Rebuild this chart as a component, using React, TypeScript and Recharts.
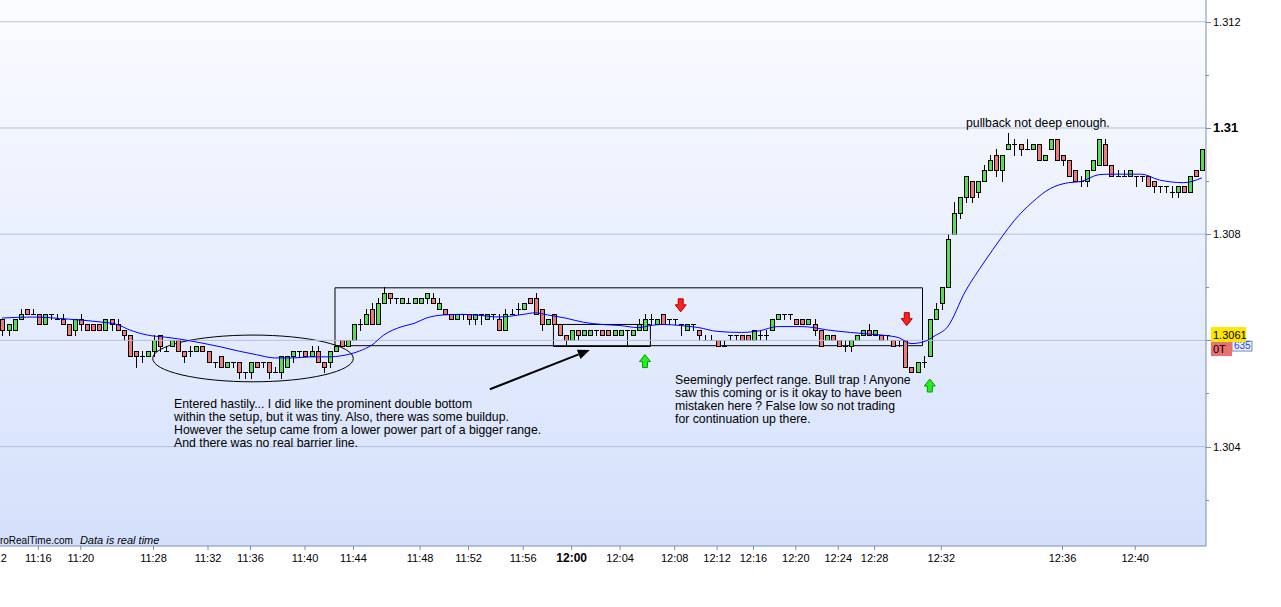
import React from 'react';
import {
  Bar,
  ComposedChart,
  Line,
  ReferenceArea,
  ReferenceDot,
  ReferenceLine,
  XAxis,
  YAxis,
} from 'recharts';

// one candle per tick-bar, read left to right off the screenshot
const opens = [
  1.3064, 1.3062, 1.3062, 1.3064, 1.3066, 1.3065, 1.3065, 1.3063, 1.3065, 1.3064,
  1.3064, 1.3063, 1.3062, 1.3064, 1.3063, 1.3063, 1.3063, 1.3062, 1.3064, 1.3063,
  1.3062, 1.3061, 1.3058, 1.3057, 1.3057, 1.3058, 1.3061, 1.3058, 1.3059, 1.306,
  1.3058, 1.3058, 1.3058, 1.3059, 1.3058, 1.3056, 1.3057, 1.3055, 1.3056, 1.3056,
  1.3054, 1.3054, 1.3056, 1.3056, 1.3056, 1.3054, 1.3054, 1.3055, 1.3057, 1.3058,
  1.3058, 1.3057, 1.3058, 1.3056, 1.3056, 1.3058, 1.306, 1.3059, 1.306, 1.3063,
  1.3063, 1.3066, 1.3063, 1.3067, 1.3069, 1.3068, 1.3067, 1.3067, 1.3067, 1.3067,
  1.3068, 1.3068, 1.3066, 1.3066, 1.3065, 1.3064, 1.3065, 1.3065, 1.3064, 1.3065,
  1.3064, 1.3065, 1.3064, 1.3062, 1.3065, 1.3066, 1.3066, 1.3068, 1.3068, 1.3066,
  1.3063, 1.3065, 1.3063, 1.3061, 1.306, 1.3062, 1.3061, 1.3061, 1.3062, 1.3062,
  1.3062, 1.3061, 1.3061, 1.3062, 1.3061, 1.3062, 1.3062, 1.3064, 1.3063, 1.3065,
  1.3064, 1.3064, 1.3063, 1.3062, 1.3063, 1.3062, 1.306, 1.306, 1.306, 1.3059,
  1.3061, 1.3061, 1.3061, 1.3061, 1.306, 1.3061, 1.3061, 1.3062, 1.3064, 1.3065,
  1.3065, 1.3064, 1.3064, 1.3063, 1.3063, 1.3062, 1.306, 1.3061, 1.306, 1.3059,
  1.3059, 1.306, 1.3061, 1.3062, 1.3061, 1.3061, 1.3061, 1.306, 1.306, 1.306,
  1.3055, 1.3054, 1.3056, 1.3057, 1.3064, 1.3067, 1.307, 1.308, 1.3084, 1.3087,
  1.309, 1.3088, 1.309, 1.3092, 1.3095, 1.3092, 1.3096, 1.3097, 1.3097, 1.3096,
  1.3096, 1.3097, 1.3094, 1.3096, 1.3098, 1.3095, 1.3094, 1.3092, 1.309, 1.309,
  1.3092, 1.3093, 1.3097, 1.3093, 1.3091, 1.3091, 1.3091, 1.3091, 1.3091, 1.3091,
  1.309, 1.3089, 1.3089, 1.3088, 1.3088, 1.3089, 1.3088, 1.3092, 1.3092,
];

const highs = [
  1.3064, 1.3063, 1.3064, 1.3066, 1.3066, 1.3066, 1.3065, 1.3065, 1.3065, 1.3065,
  1.3065, 1.3063, 1.3064, 1.3065, 1.3063, 1.3063, 1.3063, 1.3064, 1.3064, 1.3064,
  1.3062, 1.3061, 1.3058, 1.3058, 1.3058, 1.3061, 1.3061, 1.3059, 1.306, 1.306,
  1.3058, 1.3059, 1.3059, 1.3059, 1.3058, 1.3056, 1.3057, 1.3056, 1.3056, 1.3056,
  1.3054, 1.3056, 1.3056, 1.3056, 1.3056, 1.3055, 1.3057, 1.3057, 1.3058, 1.3058,
  1.3058, 1.3059, 1.3059, 1.3056, 1.3058, 1.3059, 1.306, 1.306, 1.3063, 1.3064,
  1.3066, 1.3067, 1.3068, 1.307, 1.3069, 1.3068, 1.3068, 1.3068, 1.3068, 1.3068,
  1.3069, 1.3069, 1.3068, 1.3066, 1.3065, 1.3065, 1.3065, 1.3065, 1.3065, 1.3065,
  1.3065, 1.3065, 1.3065, 1.3066, 1.3066, 1.3067, 1.3067, 1.3068, 1.3069, 1.3066,
  1.3064, 1.3065, 1.3063, 1.3061, 1.3062, 1.3062, 1.3062, 1.3062, 1.3062, 1.3062,
  1.3062, 1.3062, 1.3062, 1.3062, 1.3062, 1.3064, 1.3065, 1.3065, 1.3064, 1.3065,
  1.3064, 1.3064, 1.3063, 1.3063, 1.3063, 1.3062, 1.3061, 1.3061, 1.306, 1.306,
  1.3061, 1.3061, 1.3061, 1.3061, 1.3062, 1.3062, 1.3062, 1.3064, 1.3065, 1.3065,
  1.3065, 1.3064, 1.3064, 1.3064, 1.3064, 1.3062, 1.3061, 1.3061, 1.306, 1.306,
  1.306, 1.3061, 1.3062, 1.3063, 1.3062, 1.3061, 1.3061, 1.306, 1.306, 1.306,
  1.3055, 1.3056, 1.3057, 1.3064, 1.3067, 1.307, 1.308, 1.3086, 1.3087, 1.3091,
  1.309, 1.309, 1.3093, 1.3095, 1.3096, 1.3095, 1.3099, 1.3098, 1.3097, 1.3098,
  1.3097, 1.3097, 1.3095, 1.3098, 1.3098, 1.3095, 1.3094, 1.3092, 1.3091, 1.3092,
  1.3094, 1.3098, 1.3098, 1.3093, 1.3092, 1.3092, 1.3092, 1.3091, 1.3091, 1.3091,
  1.309, 1.3089, 1.3089, 1.3089, 1.3089, 1.3089, 1.3091, 1.3092, 1.3096,
];

const lows = [
  1.3061, 1.3061, 1.3062, 1.3064, 1.3065, 1.3065, 1.3063, 1.3063, 1.3064, 1.3064,
  1.3063, 1.3061, 1.3061, 1.3062, 1.3062, 1.3062, 1.3062, 1.3062, 1.3062, 1.3062,
  1.306, 1.3057, 1.3055, 1.3056, 1.3057, 1.3057, 1.3058, 1.3058, 1.3059, 1.3058,
  1.3056, 1.3057, 1.3058, 1.3058, 1.3056, 1.3055, 1.3055, 1.3055, 1.3055, 1.3053,
  1.3053, 1.3053, 1.3055, 1.3055, 1.3053, 1.3054, 1.3053, 1.3055, 1.3056, 1.3057,
  1.3057, 1.3057, 1.3056, 1.3054, 1.3055, 1.3058, 1.3059, 1.3059, 1.306, 1.3062,
  1.3063, 1.3063, 1.3063, 1.3067, 1.3067, 1.3067, 1.3067, 1.3067, 1.3067, 1.3067,
  1.3067, 1.3067, 1.3066, 1.3065, 1.3064, 1.3064, 1.3064, 1.3063, 1.3063, 1.3063,
  1.3064, 1.3064, 1.3062, 1.3062, 1.3065, 1.3065, 1.3066, 1.3067, 1.3065, 1.3062,
  1.3063, 1.3063, 1.3061, 1.3059, 1.306, 1.306, 1.3061, 1.3061, 1.3061, 1.3061,
  1.3061, 1.3061, 1.3061, 1.3059, 1.3061, 1.3062, 1.3062, 1.3063, 1.3063, 1.3063,
  1.3063, 1.3063, 1.3061, 1.3062, 1.3062, 1.306, 1.306, 1.306, 1.3059, 1.3059,
  1.306, 1.306, 1.306, 1.306, 1.306, 1.306, 1.306, 1.3062, 1.3064, 1.3064,
  1.3064, 1.3063, 1.3063, 1.3063, 1.3061, 1.3059, 1.306, 1.306, 1.3059, 1.3058,
  1.3058, 1.306, 1.3061, 1.3061, 1.3061, 1.306, 1.306, 1.3059, 1.3059, 1.3055,
  1.3054, 1.3054, 1.3055, 1.3057, 1.3064, 1.3066, 1.307, 1.308, 1.3083, 1.3086,
  1.3086, 1.3087, 1.309, 1.3092, 1.3091, 1.309, 1.3096, 1.3095, 1.3095, 1.3096,
  1.3096, 1.3094, 1.3094, 1.3096, 1.3094, 1.3093, 1.3091, 1.309, 1.3089, 1.3089,
  1.3092, 1.3093, 1.3093, 1.3091, 1.3091, 1.3091, 1.3091, 1.3089, 1.309, 1.3089,
  1.3088, 1.3088, 1.3088, 1.3087, 1.3087, 1.3088, 1.3088, 1.3091, 1.3092,
];

const closes = [
  1.3062, 1.3063, 1.3064, 1.3065, 1.3065, 1.3065, 1.3063, 1.3065, 1.3065, 1.3064,
  1.3063, 1.3061, 1.3064, 1.3063, 1.3062, 1.3062, 1.3062, 1.3064, 1.3063, 1.3062,
  1.3061, 1.3057, 1.3057, 1.3057, 1.3058, 1.306, 1.3059, 1.3058, 1.306, 1.3058,
  1.3057, 1.3058, 1.3059, 1.3058, 1.3056, 1.3056, 1.3055, 1.3056, 1.3056, 1.3054,
  1.3054, 1.3056, 1.3055, 1.3056, 1.3054, 1.3054, 1.3057, 1.3057, 1.3058, 1.3058,
  1.3057, 1.3058, 1.3056, 1.3055, 1.3058, 1.3059, 1.3059, 1.306, 1.3063, 1.3063,
  1.3065, 1.3063, 1.3067, 1.3069, 1.3068, 1.3068, 1.3068, 1.3067, 1.3068, 1.3068,
  1.3069, 1.3067, 1.3067, 1.3065, 1.3064, 1.3065, 1.3065, 1.3064, 1.3065, 1.3065,
  1.3065, 1.3065, 1.3062, 1.3065, 1.3065, 1.3066, 1.3067, 1.3067, 1.3065, 1.3063,
  1.3064, 1.3063, 1.3061, 1.306, 1.3062, 1.3061, 1.3062, 1.3062, 1.3062, 1.3061,
  1.3061, 1.3062, 1.3062, 1.3062, 1.3062, 1.3063, 1.3064, 1.3064, 1.3064, 1.3063,
  1.3064, 1.3064, 1.3063, 1.3063, 1.3063, 1.3061, 1.306, 1.306, 1.3059, 1.3059,
  1.3061, 1.3061, 1.306, 1.306, 1.3062, 1.3061, 1.3061, 1.3064, 1.3065, 1.3065,
  1.3065, 1.3063, 1.3063, 1.3064, 1.3062, 1.3059, 1.3061, 1.306, 1.3059, 1.3059,
  1.306, 1.3061, 1.3062, 1.3061, 1.3062, 1.306, 1.3061, 1.3059, 1.306, 1.3055,
  1.3054, 1.3056, 1.3056, 1.3064, 1.3066, 1.307, 1.3079, 1.3084, 1.3087, 1.3091,
  1.3087, 1.309, 1.3092, 1.3094, 1.3092, 1.3095, 1.3097, 1.3097, 1.3096, 1.3096,
  1.3097, 1.3094, 1.3095, 1.3098, 1.3094, 1.3094, 1.3091, 1.309, 1.309, 1.3092,
  1.3094, 1.3098, 1.3093, 1.3091, 1.3091, 1.3091, 1.3092, 1.3091, 1.3091, 1.3089,
  1.3089, 1.3089, 1.3089, 1.3088, 1.3089, 1.3088, 1.3091, 1.3091, 1.3096,
];

// moving average, sampled at a bar every few candles
const maIdx = [
  0, 5, 11, 16, 19, 21, 24, 27, 29, 33, 36, 39, 42, 45, 48, 51, 54, 56, 59, 61,
  63, 66, 68, 70, 73, 76, 79, 82, 86, 88, 90, 93, 96, 99, 102, 105, 107, 109, 112, 115,
  118, 122, 125, 128, 132, 134, 136, 140, 143, 146, 148, 150, 152, 154, 156, 159, 162, 165, 167, 170,
  173, 176, 178, 181, 183, 188, 191, 195, 198,
];
const maVals = [
  1.30642, 1.30644, 1.3064, 1.30635, 1.3063, 1.3062, 1.3061, 1.30606, 1.30603, 1.30595,
  1.30588, 1.3058, 1.30573, 1.30567, 1.30567, 1.30569, 1.30569, 1.30571, 1.3058, 1.30591,
  1.3061, 1.30626, 1.30632, 1.30642, 1.30648, 1.30649, 1.30647, 1.30644, 1.30649, 1.30652,
  1.30648, 1.30642, 1.30634, 1.3063, 1.30628, 1.30624, 1.30628, 1.3063, 1.30628, 1.30624,
  1.30617, 1.30615, 1.30618, 1.30626, 1.30626, 1.30624, 1.3062, 1.30615, 1.30612, 1.30609,
  1.30605, 1.30594, 1.30597, 1.30609, 1.30625, 1.30693, 1.30746, 1.30795, 1.30825, 1.3086,
  1.30886, 1.30897, 1.30899, 1.30912, 1.30913, 1.30913, 1.30902, 1.30897, 1.30906,
];

const timeTicks = [-1.4, 6, 13, 25, 34, 41, 50, 58, 69, 77, 86, 94, 102, 111, 118, 124, 131, 138, 144, 155, 175, 187];
const timeLabels = [
  '11:12', '11:16', '11:20', '11:28', '11:32', '11:36', '11:40', '11:44', '11:48', '11:52', '11:56',
  '12:00', '12:04', '12:08', '12:12', '12:16', '12:20', '12:24', '12:28', '12:32', '12:36', '12:40',
];

const priceTicks = [1.303, 1.304, 1.305, 1.306, 1.307, 1.308, 1.309, 1.31, 1.311, 1.312];
const gridPrices = [1.304, 1.306, 1.308, 1.31, 1.312];

const candles = opens.map((o, i) => ({
  i,
  open: o,
  high: highs[i],
  low: lows[i],
  close: closes[i],
  range: [lows[i], highs[i]],
}));
const maData = maIdx.map((i, n) => ({ i, ma: maVals[n] }));

const FONT = "'Liberation Sans', Arial, sans-serif";
const AXIS = '#7891a8';
const UP = '#55dd55';
const DOWN = '#ee7a7a';

const Candle = (props: any) => {
  const { x, y, width, height, payload } = props;
  const c = Math.round(x + width / 2);
  const top = Math.min(y, y + height);
  const bot = Math.max(y, y + height);
  const span = payload.high - payload.low;
  const toY = (v: number) => (span === 0 ? top : top + ((payload.high - v) / span) * (bot - top));
  const yo = toY(payload.open);
  const yc = toY(payload.close);
  const bTop = Math.round(Math.min(yo, yc));
  const bBot = Math.round(Math.max(yo, yc));
  const up = payload.close > payload.open;
  return (
    <g>
      <line x1={c + 0.5} x2={c + 0.5} y1={Math.round(top)} y2={Math.round(bot) + 1} stroke="#000" />
      {bBot - bTop < 1 ? (
        <line x1={c - 2} x2={c + 3} y1={bTop + 0.5} y2={bTop + 0.5} stroke="#000" />
      ) : (
        <rect
          x={c - 1.5}
          y={bTop + 0.5}
          width={4}
          height={bBot - bTop}
          fill={up ? UP : DOWN}
          stroke="#000"
        />
      )}
    </g>
  );
};

const PriceTick = (props: any) => {
  const { x, y, payload } = props;
  const v = payload.value;
  const major = Math.round(v * 1000) % 2 === 0;
  const bold = Math.abs(v - 1.31) < 1e-7;
  const showLabel = major && Math.abs(v - 1.306) > 1e-7;
  return (
    <g>
      <line x1={x} x2={x + (major ? 5 : 3)} y1={Math.round(y) + 0.5} y2={Math.round(y) + 0.5} stroke={AXIS} />
      {showLabel && (
        <text
          x={x + 7}
          y={y + 4}
          fontFamily={FONT}
          fontSize={bold ? 13 : 11}
          fontWeight={bold ? 'bold' : 'normal'}
          fill="#000"
        >
          {String(Number(v.toFixed(3)))}
        </text>
      )}
    </g>
  );
};

const TimeTick = (props: any) => {
  const { x, y, payload } = props;
  const label = timeLabels[timeTicks.indexOf(payload.value)];
  const bold = label === '12:00';
  return (
    <text
      x={x}
      y={y + 10}
      textAnchor="middle"
      fontFamily={FONT}
      fontSize={bold ? 12 : 11}
      fontWeight={bold ? 'bold' : 'normal'}
      fill="#000"
    >
      {label}
    </text>
  );
};

const Ellipse = (props: any) => {
  const { x, y, width, height } = props;
  return (
    <ellipse
      cx={x + width / 2}
      cy={y + height / 2}
      rx={width / 2}
      ry={height / 2}
      fill="none"
      stroke="#000"
    />
  );
};

const PointerArrow = (props: any) => {
  const { x, y, width, height } = props;
  const x1 = x;
  const y1 = y + height;
  const x2 = x + width;
  const y2 = y;
  const a = Math.atan2(y2 - y1, x2 - x1);
  const len = 12;
  const half = 5;
  const bx = x2 - len * Math.cos(a);
  const by = y2 - len * Math.sin(a);
  const px = -Math.sin(a) * half;
  const py = Math.cos(a) * half;
  return (
    <g>
      <line x1={x1} y1={y1} x2={bx} y2={by} stroke="#000" strokeWidth={2} />
      <polygon points={`${x2},${y2} ${bx + px},${by + py} ${bx - px},${by - py}`} fill="#000" />
    </g>
  );
};

const blockArrow = (down: boolean) => (props: any) => {
  const { cx, cy } = props;
  const s = down ? 1 : -1;
  const pts = [
    [-2.5, -6.5],
    [2.5, -6.5],
    [2.5, -0.5],
    [5.5, -0.5],
    [0, 6.5],
    [-5.5, -0.5],
    [-2.5, -0.5],
  ]
    .map(([px, py]) => `${cx + px},${cy + s * py}`)
    .join(' ');
  return (
    <polygon
      points={pts}
      fill={down ? '#ff2020' : '#22ee22'}
      stroke={down ? '#b00000' : '#00a000'}
      strokeWidth={1}
    />
  );
};

const textBlock = (lines: string[]) => (props: any) => {
  const { cx, cy } = props;
  return (
    <text x={cx} y={cy} fontFamily={FONT} fontSize={12.25} fill="#000">
      {lines.map((l, k) => (
        <tspan key={k} x={cx} dy={k === 0 ? 0 : 13}>
          {l}
        </tspan>
      ))}
    </text>
  );
};

const SourceNote = (props: any) => {
  const { cx, cy } = props;
  return (
    <g fontFamily={FONT} fill="#000">
      <text x={cx} y={cy} textAnchor="end" fontSize={10}>
        ProRealTime.com
      </text>
      <text x={cx + 7} y={cy} fontSize={11} fontStyle="italic">
        Data is real time
      </text>
    </g>
  );
};

const PriceBadge = (props: any) => {
  const { cx, cy } = props;
  return (
    <g fontFamily={FONT} fontSize={11}>
      <rect x={cx + 26} y={cy + 6} width={20} height={10} fill="#e8eefc" stroke={AXIS} />
      <text x={cx + 28} y={cy + 14} fill="#2040ff" fontSize={10}>
        635
      </text>
      <rect x={cx + 5} y={cy - 8} width={35} height={15} fill="#ffe600" />
      <text x={cx + 7} y={cy + 4} fill="#000">
        1.3061
      </text>
      <rect x={cx + 5} y={cy + 7} width={21} height={14} fill="#e87070" />
      <text x={cx + 7} y={cy + 18} fill="#000">
        0T
      </text>
    </g>
  );
};

const noteEntry = [
  'Entered hastily... I did like the prominent double bottom',
  'within the setup, but it was tiny. Also, there was some buildup.',
  'However the setup came from a lower power part of a bigger range.',
  'And there was no real barrier line.',
];
const noteTrap = [
  'Seemingly perfect range. Bull trap ! Anyone',
  'saw this coming or is it okay to have been',
  'mistaken here ? False low so not trading',
  'for continuation up there.',
];

const App: React.FC = () => {
  return (
    <div style={{ position: 'absolute', left: -30, top: 0, width: 1311, height: 607, background: '#fff' }}>
      <ComposedChart
        width={1311}
        height={607}
        data={candles}
        margin={{ top: 0, right: 0, bottom: 0, left: 0 }}
      >
        <defs>
          <linearGradient id="plotBg" x1="0" y1="0" x2="0" y2="1">
            <stop offset="0%" stopColor="#fbfcff" />
            <stop offset="100%" stopColor="#d4e0fb" />
          </linearGradient>
        </defs>
        <XAxis
          type="number"
          dataKey="i"
          domain={[-5.28, 198.68]}
          allowDataOverflow
          ticks={timeTicks}
          interval={0}
          height={61}
          tickSize={4}
          tickMargin={2}
          axisLine={{ stroke: AXIS }}
          tickLine={{ stroke: AXIS }}
          tick={<TimeTick />}
        />
        <YAxis
          orientation="right"
          type="number"
          domain={[1.302128, 1.31241]}
          allowDataOverflow
          ticks={priceTicks}
          interval={0}
          width={75}
          tickSize={0}
          tickMargin={0}
          tickLine={false}
          axisLine={{ stroke: AXIS }}
          tick={<PriceTick />}
        />
        <ReferenceArea
          x1={-5.28}
          x2={198.68}
          y1={1.302128}
          y2={1.31241}
          fill="url(#plotBg)"
          fillOpacity={1}
          stroke="none"
        />
        {gridPrices.map((p) => (
          <ReferenceLine key={p} y={p} stroke="#b3c2de" strokeWidth={1} />
        ))}

        <Bar dataKey="range" barSize={5} shape={<Candle />} isAnimationActive={false} />
        <Line
          data={maData}
          dataKey="ma"
          type="monotone"
          stroke="#0000ff"
          strokeWidth={1}
          dot={false}
          activeDot={false}
          isAnimationActive={false}
        />

        {/* range boxes and the double-bottom ellipse */}
        <ReferenceArea x1={54.95} x2={151.9} y1={1.3059} y2={1.30699} fill="none" stroke="#000" strokeWidth={1} ifOverflow="visible" />
        <ReferenceArea x1={91} x2={107} y1={1.305885} y2={1.3063} fill="none" stroke="#000" strokeWidth={1} ifOverflow="visible" />
        <ReferenceArea x1={24.87} x2={57.97} y1={1.30522} y2={1.3061} shape={<Ellipse />} ifOverflow="visible" />
        <ReferenceArea x1={80.5} x2={97} y1={1.30508} y2={1.30582} shape={<PointerArrow />} ifOverflow="visible" />

        <ReferenceDot x={112} y={1.30666} r={0} shape={blockArrow(true)} ifOverflow="visible" />
        <ReferenceDot x={149.3} y={1.3064} r={0} shape={blockArrow(true)} ifOverflow="visible" />
        <ReferenceDot x={106.1} y={1.30561} r={0} shape={blockArrow(false)} ifOverflow="visible" />
        <ReferenceDot x={153.1} y={1.30515} r={0} shape={blockArrow(false)} ifOverflow="visible" />

        <ReferenceDot x={28.4} y={1.304727} r={0} shape={textBlock(noteEntry)} ifOverflow="visible" />
        <ReferenceDot x={111.06} y={1.305179} r={0} shape={textBlock(noteTrap)} ifOverflow="visible" />
        <ReferenceDot x={159.08} y={1.310019} r={0} shape={textBlock(['pullback not deep enough.'])} ifOverflow="visible" />
        <ReferenceDot x={11.7} y={1.302166} r={0} shape={<SourceNote />} ifOverflow="visible" />
        <ReferenceDot x={198.68} y={1.3061} r={0} shape={<PriceBadge />} ifOverflow="visible" />
      </ComposedChart>
    </div>
  );
};

export default App;
